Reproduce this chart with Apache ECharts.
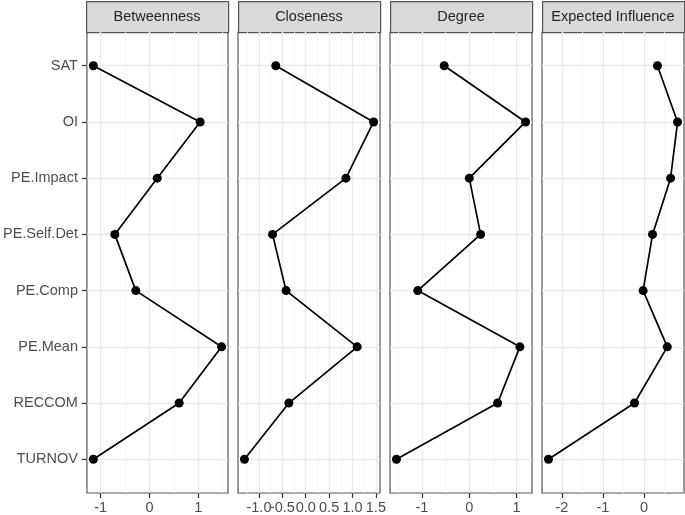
<!DOCTYPE html>
<html>
<head>
<meta charset="utf-8">
<script src="https://cdn.jsdelivr.net/npm/echarts@6/dist/echarts.min.js"></script>
<style>
  html, body { margin: 0; padding: 0; background: #fff; }
  #main { width: 685px; height: 515px; }
</style>
</head>
<body>
<div id="main"></div>
<script>
// nodes, top to bottom
var nodes = ['SAT', 'OI', 'PE.Impact', 'PE.Self.Det', 'PE.Comp', 'PE.Mean', 'RECCOM', 'TURNOV'];
var measures = ['Betweenness', 'Closeness', 'Degree', 'Expected Influence'];

// centrality values (z-scores), in node order
var betweenness = [-1.15, 1.04, 0.16, -0.71, -0.28, 1.48, 0.61, -1.15];
var closeness   = [-0.64, 1.45, 0.86, -0.71, -0.42, 1.10, -0.36, -1.31];
var degree      = [-0.53, 1.19, 0.00, 0.24, -1.09, 1.07, 0.60, -1.54];
var expInfl     = [0.33, 0.82, 0.65, 0.21, -0.02, 0.57, -0.23, -2.33];

// ticks per panel, and the minor grid lines between them
var majorTicks = [[-1, 0, 1], [-1, -0.5, 0, 0.5, 1, 1.5], [-1, 0, 1], [-2, -1, 0]];
var minorTicks = [[-1.5, -0.5, 0.5, 1.5], [-1.25, -0.75, -0.25, 0.25, 0.75, 1.25], [-1.5, -0.5, 0.5], [-2.5, -1.5, -0.5, 0.5]];
// labels; the crowded Closeness ones are split over two axes so none get dropped
var labelsA = [[-1, 0, 1], [-1, 0, 1], [-1, 0, 1], [-2, -1, 0]];
var closenessExtra = [-0.5, 0.5, 1.5];
var decimals = [0, 1, 0, 0];

var allValues = [betweenness, closeness, degree, expInfl];

var panelLeft = [86, 238, 390, 542];
var panelW = 142;
var gridTop = 32, gridBottom = 21;
var font = 'Liberation Sans, Arial, sans-serif';
var border = '#555555';

// ggplot-style 5% padding around the data range
function padMin(arr) { var lo = Math.min.apply(null, arr), hi = Math.max.apply(null, arr); return lo - 0.05 * (hi - lo); }
function padMax(arr) { var lo = Math.min.apply(null, arr), hi = Math.max.apply(null, arr); return hi + 0.05 * (hi - lo); }

var grids = [], xAxes = [], yAxes = [], series = [], graphics = [];
var idx = nodes.map(function (n, i) { return i; });

function yAxisFor(g, showLabels) {
	return {
		type: 'value', gridIndex: g, inverse: true, position: 'left',
		min: -0.6, max: nodes.length - 1 + 0.6,
		axisLine: { show: false, onZero: false },
		axisTick: { show: showLabels, length: 5, customValues: idx, lineStyle: { color: '#333', width: 1.2 } },
		axisLabel: {
			show: showLabels, customValues: idx, margin: 9, color: '#4d4d4d', fontSize: 14.5, fontFamily: font,
			formatter: function (v) { return nodes[Math.round(v)]; }
		},
		splitLine: { show: g < 4, lineStyle: { color: '#ebebeb', width: 1.4 } }
	};
}

for (var p = 0; p < 4; p++) {
	grids.push({
		left: panelLeft[p], width: panelW, top: gridTop, bottom: gridBottom,
		show: true, borderColor: border, borderWidth: 1.2, backgroundColor: '#fff'
	});
	(function (p) {
		// major axis: labels, ticks, major grid lines
		xAxes.push({
			type: 'value', gridIndex: p, position: 'bottom',
			min: padMin(allValues[p]), max: padMax(allValues[p]),
			axisLine: { show: false, onZero: false },
			axisTick: { show: true, length: 5, customValues: majorTicks[p], lineStyle: { color: '#333', width: 1.2 } },
			axisLabel: {
				customValues: labelsA[p], margin: 7, color: '#4d4d4d', fontSize: 14.5, fontFamily: font,
				formatter: function (v) { return v.toFixed(decimals[p]); }
			},
			splitLine: { show: true, lineStyle: { color: '#ebebeb', width: 1.4 } }
		});
	})(p);
}
// second axis per panel for the minor grid lines
for (var p = 0; p < 4; p++) {
	xAxes.push({
		type: 'value', gridIndex: p, position: 'top',
		min: padMin(allValues[p]), max: padMax(allValues[p]),
		axisLine: { show: false, onZero: false },
		axisTick: { show: false, customValues: minorTicks[p] },
		axisLabel: { show: false, customValues: minorTicks[p] },
		splitLine: { show: true, lineStyle: { color: '#f2f2f2', width: 0.8 } }
	});
}
for (var p = 0; p < 4; p++) {
	yAxes.push(yAxisFor(p, p === 0));
	series.push({
		type: 'line', xAxisIndex: p, yAxisIndex: p,
		data: allValues[p].map(function (v, i) { return [v, i]; }),
		symbol: 'circle', symbolSize: 9,
		itemStyle: { color: '#000' },
		lineStyle: { color: '#000', width: 1.7 },
		z: 5, animation: false
	});
	// facet strip
	graphics.push({
		type: 'rect', left: panelLeft[p], top: 1,
		shape: { width: panelW, height: 31 },
		style: { fill: '#d9d9d9', stroke: border, lineWidth: 1.2 }
	});
	graphics.push({
		type: 'text', x: panelLeft[p] + panelW / 2, y: 17,
		style: {
			text: measures[p], fill: '#262626', font: '14.5px ' + font,
			textAlign: 'center', textVerticalAlign: 'middle'
		}
	});
}

// overlay grid on the Closeness panel carrying the in-between labels
grids.push({ left: panelLeft[1], width: panelW, top: gridTop, bottom: gridBottom, show: false });
xAxes.push({
	type: 'value', gridIndex: 4, position: 'bottom',
	min: padMin(closeness), max: padMax(closeness),
	axisLine: { show: false, onZero: false },
	axisTick: { show: false, customValues: closenessExtra },
	axisLabel: {
		customValues: closenessExtra, margin: 7, color: '#4d4d4d', fontSize: 14.5, fontFamily: font,
		formatter: function (v) { return v.toFixed(1); }
	},
	splitLine: { show: false }
});
yAxes.push(yAxisFor(4, false));

var chart = echarts.init(document.getElementById('main'));
chart.setOption({
	animation: false,
	grid: grids,
	xAxis: xAxes,
	yAxis: yAxes,
	series: series,
	graphic: graphics
});
</script>
</body>
</html>
